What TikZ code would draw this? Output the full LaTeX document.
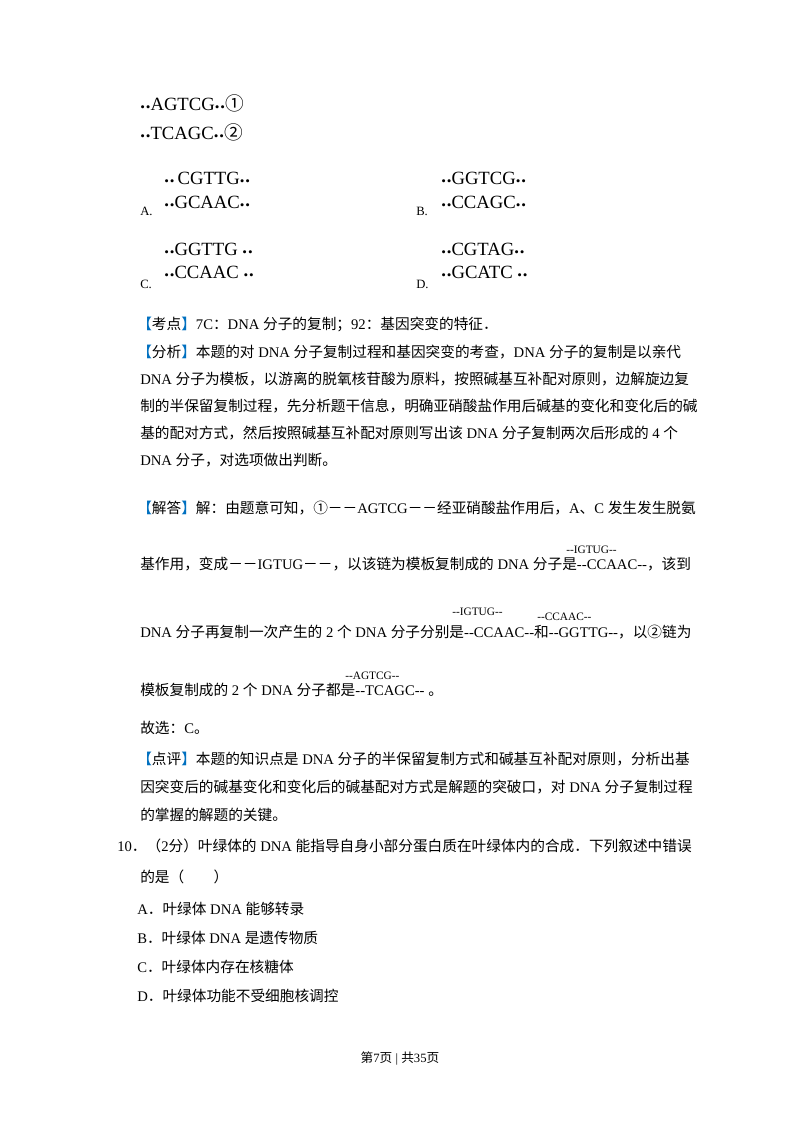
\documentclass[tikz,border=0pt]{standalone}
\usepackage{fontspec}
\setmainfont{Liberation Serif}
\newfontfamily\cjk{Noto Sans CJK SC}
\newcommand\zh[1]{{\cjk #1}}
\newcommand\dd{-{}-}
\definecolor{kb}{RGB}{0,112,192}
\newcommand\bk[1]{{\cjk\color{kb}【}\zh{#1}{\cjk\color{kb}】}}
\newcommand\dt{\textbf{\raisebox{0.15ex}{.\kern0.05em.}}}
\begin{document}
\begin{tikzpicture}[x=0.75pt,y=-0.75pt,
 t/.style={anchor=base west,inner sep=0pt,font=\fontsize{11}{11}\selectfont},
 s/.style={anchor=base west,inner sep=0pt,font=\fontsize{8.5}{8.5}\selectfont},
 dna/.style={anchor=base west,inner sep=0pt,font=\fontsize{14}{14}\selectfont},
 lab/.style={anchor=base west,inner sep=0pt,font=\fontsize{9.5}{9.5}\selectfont}]
\useasboundingbox (0,0) rectangle (800,1132);
\fill[white] (0,0) rectangle (800,1132);
% strands
\node[dna] (s1) at (140,110) {\dt AGTCG\dt\zh{①}};
\node[dna] (s2) at (140,139) {\dt TCAGC\dt\zh{②}};
\node[lab] (la) at (140,215) {A.};
\node[dna] (a1) at (164,184) {\dt\,CGTTG\dt};
\node[dna] (a2) at (164,208) {\dt GCAAC\dt};
\node[lab] (lb) at (416,215) {B.};
\node[dna] (b1) at (441,184) {\dt GGTCG\dt};
\node[dna] (b2) at (441,208) {\dt CCAGC\dt};
\node[lab] (lc) at (140,288) {C.};
\node[dna] (c1) at (164,255) {\dt GGTTG \dt};
\node[dna] (c2) at (164,278) {\dt CCAAC \dt};
\node[lab] (ld) at (416,288) {D.};
\node[dna] (d1) at (441,255) {\dt CGTAG\dt};
\node[dna] (d2) at (441,278) {\dt GCATC \dt};
% text
\node[t] (l1) at (137,329) {\bk{考点}7C\zh{：}DNA \zh{分子的复制；}92\zh{：基因突变的特征．}};
\node[t] (l2) at (137,357) {\bk{分析}\zh{本题的对} DNA \zh{分子复制过程和基因突变的考查，}DNA \zh{分子的复制是以亲代}};
\node[t] (l3) at (140,384) {DNA \zh{分子为模板，以游离的脱氧核苷酸为原料，按照碱基互补配对原则，边解旋边复}};
\node[t] (l4) at (140,411) {\zh{制的半保留复制过程，先分析题干信息，明确亚硝酸盐作用后碱基的变化和变化后的碱}};
\node[t] (l5) at (140,438) {\zh{基的配对方式，然后按照碱基互补配对原则写出该} DNA \zh{分子复制两次后形成的} 4 \zh{个}};
\node[t] (l6) at (140,465) {DNA \zh{分子，对选项做出判断。}};
\node[t] (l7) at (137,513) {\bk{解答}\zh{解：由题意可知，①－－}AGTCG\zh{－－经亚硝酸盐作用后，}A\zh{、}C \zh{发生发生脱氨}};
\node[s] (u1) at (566,553) {\dd IGTUG\dd};
\node[t] (l8) at (140,569) {\zh{基作用，变成－－}IGTUG\zh{－－，以该链为模板复制成的} DNA \zh{分子是}\dd CCAAC\dd\zh{，该到}};
\node[s] (u2) at (452,615) {\dd IGTUG\dd};
\node[s] (u3) at (537,620) {\dd CCAAC\dd};
\node[t] (l9) at (140,637) {DNA \zh{分子再复制一次产生的} 2 \zh{个} DNA \zh{分子分别是}\dd CCAAC\dd\zh{和}\dd GGTTG\dd\zh{，以②链为}};
\node[s] (u4) at (345,679) {\dd AGTCG\dd};
\node[t] (l10) at (140,695) {\zh{模板复制成的} 2 \zh{个} DNA \zh{分子都是}\dd TCAGC\dd\ \zh{。}};
\node[t] (l11) at (140,733) {\zh{故选：}C\zh{。}};
\node[t] (l12) at (137,764) {\bk{点评}\zh{本题的知识点是} DNA \zh{分子的半保留复制方式和碱基互补配对原则，分析出基}};
\node[t] (l13) at (140,792) {\zh{因突变后的碱基变化和变化后的碱基配对方式是解题的突破口，对} DNA \zh{分子复制过程}};
\node[t] (l14) at (140,820) {\zh{的掌握的解题的关键。}};
\node[t] (q1) at (117,851) {10\zh{．（}2\zh{分）叶绿体的} DNA \zh{能指导自身小部分蛋白质在叶绿体内的合成．下列叙述中错误}};
\node[t] (q2) at (140,882) {\zh{的是（　　）}};
\node[t] (qa) at (137,914) {A\zh{．叶绿体} DNA \zh{能够转录}};
\node[t] (qb) at (137,943) {B\zh{．叶绿体} DNA \zh{是遗传物质}};
\node[t] (qc) at (137,972) {C\zh{．叶绿体内存在核糖体}};
\node[t] (qd) at (137,1001) {D\zh{．叶绿体功能不受细胞核调控}};
\node[anchor=base,inner sep=0pt,font=\fontsize{9.5}{9.5}\selectfont] (ft) at (400,1062) {\zh{第}7\zh{页}~|~\zh{共}35\zh{页}};
\end{tikzpicture}
\end{document}
